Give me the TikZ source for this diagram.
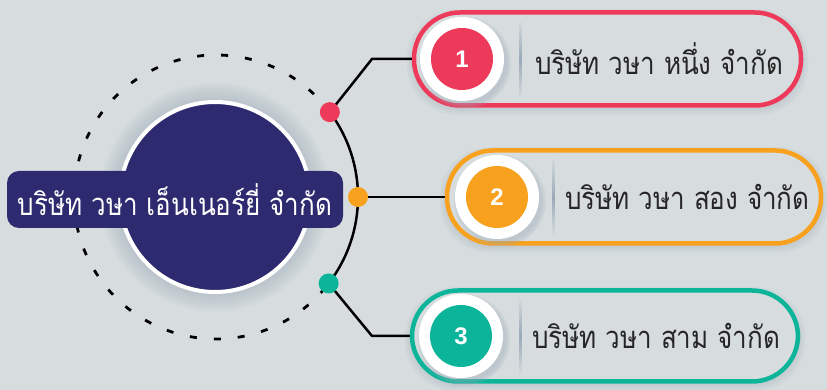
\documentclass[tikz,border=0pt]{standalone}
\usepackage{fontspec}
\newfontfamily\thai[Script=Thai]{Loma}
\newfontfamily\numfont{Liberation Sans}
\usetikzlibrary{calc}
\definecolor{bg}{HTML}{D7DDDE}
\definecolor{navy}{HTML}{2E2A70}
\definecolor{cred}{HTML}{EE3A5A}
\definecolor{corange}{HTML}{F7A11F}
\definecolor{cteal}{HTML}{0CB59A}
\definecolor{glow}{HTML}{9AA9B8}
\definecolor{ink}{HTML}{262626}
\newcommand{\thaitxt}[1]{\scalebox{0.84}[1]{#1}}
\pgfdeclarelayer{back}
\pgfdeclarelayer{under}
\pgfsetlayers{back,under,main}
\begin{document}
\begin{tikzpicture}[x=1pt,y=1pt,
  pill/.style={draw, line width=4.5pt, fill=bg, rounded corners=46pt, minimum height=93pt, inner sep=0pt},
  numring/.style={circle, fill=white, minimum size=84pt, inner sep=0pt},
  numdot/.style={circle, minimum size=62pt, inner sep=0pt, text=white, font=\numfont\bfseries\fontsize{24}{24}\selectfont},
  dotc/.style={circle, minimum size=20pt, inner sep=0pt},
  ptext/.style={anchor=west, text=ink, font=\thai\fontsize{31}{34}\selectfont, inner sep=0pt},
  wire/.style={line width=2.5pt, black},
  dashring/.style={line width=2.8pt, black, dash pattern=on 7pt off 17pt},
  divline/.style={top color=bg, bottom color=bg, middle color=glow}
]
\useasboundingbox (0,0) rectangle (827,390);
\begin{pgfonlayer}{back}
\fill[bg] (0,0) rectangle (827,390);
\end{pgfonlayer}
\coordinate (C) at (216,193);

% glow of main circle
\foreach \r in {0,2.5,...,17.5} {\fill[glow, opacity=0.07] (215,193) circle ({97+\r});}
\node[circle, fill=navy, draw=white, line width=4pt, minimum size=190pt, inner sep=0pt] (mc) at (215,193) {};
\node[fill=navy, rounded corners=12pt, minimum width=336pt, minimum height=57pt, inner sep=0pt, text=white, font=\thai\fontsize{31}{34}\selectfont] (title) at (175,190.5) {\thaitxt{บริษัท วษา เอ็นเนอร์ยี่ จำกัด}};

% dots
\node[dotc, fill=cred] (d1) at ($(C)+(36.7:142)$) {};
\node[dotc, fill=corange] (d2) at ($(C)+(0:142)$) {};
\node[dotc, fill=cteal] (d3) at ($(C)+(-37.5:142)$) {};

% pills
\node[pill, draw=cred, minimum width=387pt] (p1) at (607.5,331) {};
\node[pill, draw=corange, minimum width=374pt] (p2) at (634,193) {};
\node[pill, draw=cteal, minimum width=386pt, minimum height=91pt] (p3) at (605,54) {};

\begin{pgfonlayer}{under}
\foreach \p in {p1,p2,p3} {
  \foreach \e in {1,3,5} {\fill[glow, opacity=0.10, rounded corners=50pt] ($(\p.south west)+(-\e,-\e-2)$) rectangle ($(\p.north east)+(\e,\e-4)$);}
}
\draw[dashring] (C) ++(36.7:142) arc[start angle=36.7, end angle=322.5, radius=142];
\draw[wire] (C) ++(-37.5:142) arc[start angle=-37.5, end angle=36.7, radius=142];
\coordinate (k1) at (372,331);
\coordinate (k3) at (372,54);
\draw[wire] (d1.center) -- (k1) -- (p1.west);
\draw[wire] (d2.center) -- (p2.west);
\draw[wire] (d3.center) -- (k3) -- (p3.west);
\end{pgfonlayer}

% number badges
\foreach \x/\y/\n in {462/331/1, 497/193/2, 461/54/3} {
  \foreach \e in {0,2,4} {\fill[glow, opacity=0.16] (\x+3,\y-4) circle ({42+\e});}
}
\node[numring] (r1) at (462,331) {};
\node[numring] (r2) at (497,193) {};
\node[numring] (r3) at (461,54) {};
\node[numdot, fill=cred] (n1) at (r1) {1};
\node[numdot, fill=corange] (n2) at (r2) {2};
\node[numdot, fill=cteal] (n3) at (r3) {3};

% dividers
\shade[divline] (519,291) rectangle (521.5,371);
\shade[divline] (552,153) rectangle (554.5,233);
\shade[divline] (519,14) rectangle (521.5,94);

% texts
\node[ptext] (t1) at (535,331) {\thaitxt{บริษัท วษา หนึ่ง จำกัด}};
\node[ptext] (t2) at (565,193) {\thaitxt{บริษัท วษา สอง จำกัด}};
\node[ptext] (t3) at (532,54) {\thaitxt{บริษัท วษา สาม จำกัด}};
\end{tikzpicture}
\end{document}
